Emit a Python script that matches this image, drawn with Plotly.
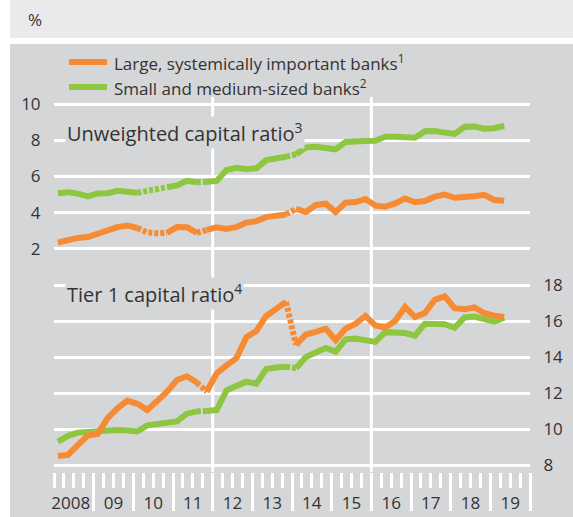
import plotly.graph_objects as go

# ---------------- data ----------------
years = list(range(2008, 2020))
year_labels = ["2008", "09", "10", "11", "12", "13", "14", "15", "16", "17", "18", "19"]
quarters = [f"{y}Q{q}" for y in years for q in range(1, 5)][:46]  # 2008Q1 .. 2019Q2

large_unweighted = [2.35, 2.48, 2.6, 2.65, 2.85, 3.05, 3.2, 3.29, 3.15, 2.9, 2.86, 2.88, 3.2, 3.19, 2.88, 3.04,
                    3.19, 3.1, 3.2, 3.45, 3.53, 3.75, 3.8, 3.9, 4.2, 4.03, 4.42, 4.49, 4.03, 4.55, 4.58, 4.75,
                    4.39, 4.33, 4.51, 4.78, 4.57, 4.64, 4.88, 5.0, 4.82, 4.83, 4.9, 4.98, 4.7, 4.66]
small_unweighted = [5.07, 5.13, 5.05, 4.9, 5.05, 5.07, 5.2, 5.13, 5.1, 5.2, 5.33, 5.4, 5.5, 5.76, 5.68, 5.7,
                    5.75, 6.35, 6.48, 6.4, 6.45, 6.9, 7.03, 7.09, 7.22, 7.6, 7.64, 7.6, 7.5, 7.9, 7.96, 7.96,
                    7.97, 8.19, 8.19, 8.16, 8.14, 8.5, 8.51, 8.42, 8.35, 8.74, 8.75, 8.63, 8.66, 8.8]
large_tier1 = [8.5, 8.56, 9.1, 9.63, 9.72, 10.6, 11.15, 11.58, 11.4, 11.06, 11.55, 12.07, 12.72, 12.93, 12.58, 12.07,
               13.09, 13.53, 13.94, 15.1, 15.44, 16.28, 16.72, 17.06, 14.67, 15.25, 15.4, 15.57, 14.94, 15.57, 15.84, 16.28,
               15.75, 15.64, 16.0, 16.78, 16.22, 16.44, 17.18, 17.37, 16.71, 16.65, 16.75, 16.43, 16.3, 16.22]
small_tier1 = [9.3, 9.62, 9.8, 9.85, 9.89, 9.95, 9.95, 9.92, 9.86, 10.2, 10.27, 10.33, 10.42, 10.85, 10.98, 11.0,
               11.05, 12.15, 12.37, 12.63, 12.52, 13.33, 13.42, 13.46, 13.38, 14.0, 14.25, 14.5, 14.3, 14.98, 15.02, 14.97,
               14.84, 15.38, 15.38, 15.33, 15.18, 15.85, 15.84, 15.82, 15.62, 16.2, 16.25, 16.1, 15.97, 16.18]

# structural breaks (index ranges drawn dashed)
unweighted_breaks = [(8, 11), (14, 15), (23, 24)]
tier1_breaks = [(14, 15), (23, 24)]

left_ticks = [2, 4, 6, 8, 10]
right_ticks = [8, 10, 12, 14, 16, 18]

series_names = ["Large, systemically important banks<sup>1</sup>", "Small and medium-sized banks<sup>2</sup>"]
ORANGE = "#F68B33"
GREEN = "#8DC63F"
PANEL = "#D5D6D8"
HEADER = "#EAEAEC"
TXT = "#333333"
FONT = "Open Sans"

# ---------------- geometry ----------------
W, H = 573, 517
L, R, T, B = 54, 530, 97, 472


def px(x):
    return (x - L) / (R - L)


def py(y):
    return (B - y) / (B - T)


def qpos(label):
    y, q = label.split("Q")
    return int(y) + (int(q) - 1) / 4 + 0.1


xs = [qpos(q) for q in quarters]


def split(vals, breaks):
    n = len(vals)
    solid_x, solid_y, dash_x, dash_y = [], [], [], []
    cuts = [0]
    for a, b in breaks:
        cuts += [a, b]
    cuts.append(n - 1)
    for k in range(0, len(cuts), 2):
        a, b = cuts[k], cuts[k + 1]
        solid_x += xs[a:b + 1] + [None]
        solid_y += vals[a:b + 1] + [None]
    for a, b in breaks:
        dash_x += xs[a:b + 1] + [None]
        dash_y += vals[a:b + 1] + [None]
    return solid_x, solid_y, dash_x, dash_y


fig = go.Figure()


def add(vals, breaks, color, xa, ya):
    sx, sy, dx, dy = split(vals, breaks)
    fig.add_trace(go.Scatter(x=sx, y=sy, mode="lines", line=dict(color=color, width=6),
                             xaxis=xa, yaxis=ya, showlegend=False, hoverinfo="skip", connectgaps=False))
    fig.add_trace(go.Scatter(x=dx, y=dy, mode="lines", line=dict(color=color, width=6, dash="4px,2px"),
                             xaxis=xa, yaxis=ya, showlegend=False, hoverinfo="skip", connectgaps=False))


add(small_unweighted, unweighted_breaks, GREEN, "x", "y")
add(large_unweighted, unweighted_breaks, ORANGE, "x", "y")
add(small_tier1, tier1_breaks, GREEN, "x2", "y2")
add(large_tier1, tier1_breaks, ORANGE, "x2", "y2")

# axis ranges so that both scales are ~18 px per unit
left_range = [10 - (B - 104) / 18.1, 10 + (104 - T) / 18.1]
right_range = [18 - (B - 285) / 18.0, 18 + (285 - T) / 18.0]

mid = [y + 0.5 for y in years]
mid[0] = years[0] + 0.42

TICKFONT = dict(size=17, color=TXT)

fig.update_layout(
    width=W, height=H,
    margin=dict(l=L, r=W - R, t=T, b=H - B, autoexpand=False),
    paper_bgcolor=PANEL, plot_bgcolor="rgba(0,0,0,0)",
    font=dict(family=FONT, color=TXT, size=17),
    showlegend=False,
    xaxis=dict(range=[2008, 2020], tickmode="array", tickvals=mid, ticktext=year_labels,
               ticks="outside", ticklen=16, tickcolor="rgba(0,0,0,0)", showgrid=False, zeroline=False,
               showline=False, tickfont=TICKFONT, automargin=False),
    xaxis2=dict(range=[2008, 2020], overlaying="x", anchor="y2", side="bottom",
                tickmode="array", tickvals=list(range(2009, 2021)), ticks="outside", ticklen=38,
                tickwidth=3, tickcolor="white", showticklabels=False, showgrid=False, zeroline=False,
                showline=False, automargin=False,
                minor=dict(ticks="outside", ticklen=15, tickwidth=3, tickcolor="white",
                           tickmode="linear", tick0=2008, dtick=0.25, showgrid=False)),
    yaxis=dict(range=left_range, tickmode="array", tickvals=left_ticks, ticks="outside", ticklen=9,
               tickcolor="rgba(0,0,0,0)", showgrid=True, gridcolor="white", gridwidth=3,
               zeroline=False, showline=False, tickfont=TICKFONT, automargin=False),
    yaxis2=dict(range=right_range, overlaying="y", anchor="x2", side="right", tickmode="array",
                tickvals=right_ticks, ticks="outside", ticklen=9, tickcolor="rgba(0,0,0,0)",
                showgrid=True, gridcolor="white", gridwidth=3, zeroline=False, showline=False,
                tickfont=TICKFONT, automargin=False),
)

shapes = [
    # white strip at the left and header band
    dict(type="rect", xref="paper", yref="paper", x0=px(0), x1=px(10), y0=py(H), y1=py(0),
         fillcolor="white", line=dict(width=0), layer="below"),
    dict(type="rect", xref="paper", yref="paper", x0=px(10), x1=px(W), y0=py(38), y1=py(0),
         fillcolor=HEADER, line=dict(width=0), layer="below"),
    dict(type="rect", xref="paper", yref="paper", x0=px(10), x1=px(W), y0=py(44), y1=py(38),
         fillcolor="white", line=dict(width=0), layer="below"),
]
for yv in (2012, 2016):
    shapes.append(dict(type="line", xref="x", yref="paper", x0=yv, x1=yv, y0=0, y1=1,
                       line=dict(color="white", width=3), layer="below"))
# legend swatches
for ypix, col in ((62, ORANGE), (87, GREEN)):
    shapes.append(dict(type="line", xref="paper", yref="paper", x0=px(69), x1=px(107), y0=py(ypix), y1=py(ypix),
                       line=dict(color=col, width=6)))
fig.update_layout(shapes=shapes)

ann = [
    dict(text="%", x=px(26), y=py(20), xref="paper", yref="paper", xanchor="left", yanchor="middle",
         showarrow=False, font=dict(size=17, color=TXT)),
    dict(text=series_names[0], x=px(112), y=py(62), xref="paper", yref="paper", xanchor="left",
         yanchor="middle", showarrow=False, font=dict(size=17, color=TXT)),
    dict(text=series_names[1], x=px(112), y=py(87), xref="paper", yref="paper", xanchor="left",
         yanchor="middle", showarrow=False, font=dict(size=17, color=TXT)),
    dict(text="Unweighted capital ratio<sup>3</sup>", x=px(65), y=py(132), xref="paper", yref="paper",
         xanchor="left", yanchor="middle", showarrow=False, bgcolor=PANEL, borderpad=1,
         font=dict(size=20, color=TXT)),
    dict(text="Tier 1 capital ratio<sup>4</sup>", x=px(65), y=py(293), xref="paper", yref="paper",
         xanchor="left", yanchor="middle", showarrow=False, bgcolor=PANEL, borderpad=1,
         font=dict(size=20, color=TXT)),
]
fig.update_layout(annotations=ann)

fig.write_html("out.html", config={"displayModeBar": False},
               post_script="document.body.style.margin='0';document.body.style.overflow='hidden';")
